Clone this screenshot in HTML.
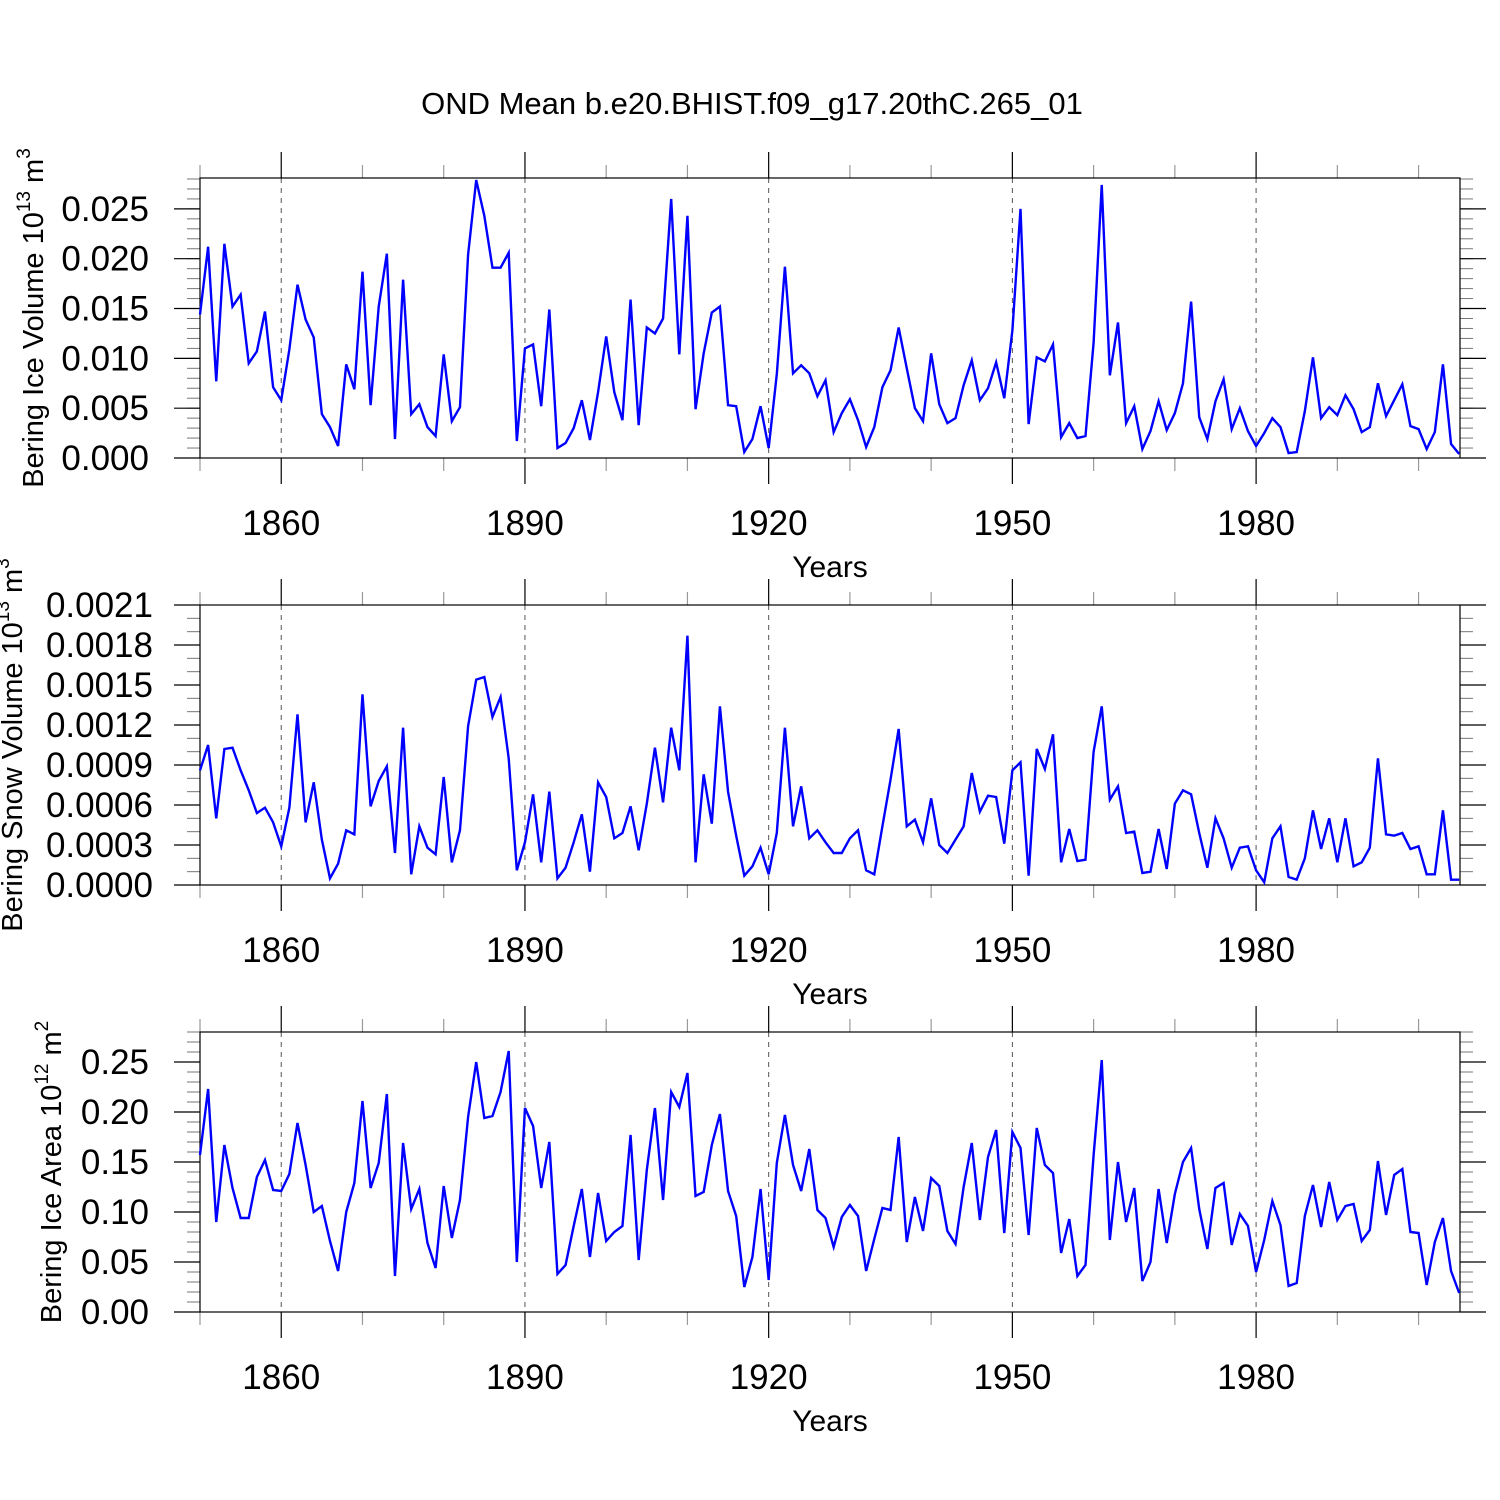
<!DOCTYPE html>
<html><head><meta charset="utf-8"><style>
html,body{margin:0;padding:0;background:#fff;}
svg{display:block;font-family:"Liberation Sans",Arial,sans-serif;}
</style></head><body>
<svg id="chart" width="1500" height="1500" viewBox="0 0 1500 1500" xmlns="http://www.w3.org/2000/svg">
<rect width="1500" height="1500" fill="#fff"/>
<text x="752" y="114" font-size="31" text-anchor="middle">OND Mean b.e20.BHIST.f09_g17.20thC.265_01</text>
</svg>
<script>
const startYear = 1850;
const iceVolume = [0.0144,0.0212,0.0077,0.0215,0.0152,0.0164,0.0095,0.0107,0.0147,0.0071,
0.0058,0.0109,0.0174,0.0139,0.0121,0.0044,0.0031,0.0012,0.0094,0.0069,
0.0187,0.0053,0.0152,0.0205,0.0019,0.0179,0.0044,0.0054,0.0031,0.0022,
0.0104,0.0037,0.0051,0.0204,0.0279,0.0243,0.0191,0.0191,0.0206,0.0017,
0.0110,0.0114,0.0052,0.0149,0.0010,0.0015,0.0030,0.0058,0.0018,0.0066,
0.0122,0.0066,0.0038,0.0159,0.0033,0.0131,0.0125,0.0140,0.0260,0.0104,
0.0243,0.0049,0.0105,0.0146,0.0152,0.0053,0.0052,0.0006,0.0019,0.0052,
0.0010,0.0084,0.0192,0.0085,0.0093,0.0085,0.0062,0.0078,0.0026,0.0045,
0.0059,0.0038,0.0011,0.0031,0.0071,0.0088,0.0131,0.0090,0.0050,0.0037,
0.0105,0.0054,0.0035,0.0040,0.0073,0.0098,0.0058,0.0070,0.0096,0.0060,
0.0128,0.0250,0.0034,0.0101,0.0097,0.0114,0.0021,0.0035,0.0020,0.0022,
0.0116,0.0274,0.0083,0.0136,0.0035,0.0052,0.0009,0.0027,0.0057,0.0028,
0.0045,0.0075,0.0157,0.0041,0.0019,0.0057,0.0079,0.0029,0.0050,0.0027,
0.0012,0.0025,0.0040,0.0031,0.0005,0.0006,0.0047,0.0101,0.0040,0.0051,
0.0043,0.0063,0.0049,0.0026,0.0031,0.0075,0.0042,0.0058,0.0074,0.0032,
0.0029,0.0009,0.0026,0.0094,0.0014,0.0004];
const snowVolume = [0.00086,0.00105,0.00050,0.00102,0.00103,0.00086,0.00071,0.00054,0.00058,0.00047,
0.00029,0.00058,0.00128,0.00047,0.00077,0.00034,0.00005,0.00016,0.00041,0.00038,
0.00143,0.00059,0.00078,0.00089,0.00024,0.00118,0.00008,0.00044,0.00028,0.00023,
0.00081,0.00017,0.00041,0.00119,0.00154,0.00156,0.00126,0.00141,0.00095,0.00011,
0.00032,0.00068,0.00017,0.00070,0.00005,0.00013,0.00032,0.00053,0.00010,0.00077,
0.00066,0.00035,0.00039,0.00059,0.00026,0.00061,0.00103,0.00062,0.00118,0.00086,
0.00187,0.00017,0.00083,0.00046,0.00134,0.00070,0.00037,0.00007,0.00014,0.00028,
0.00008,0.00039,0.00118,0.00044,0.00074,0.00035,0.00041,0.00032,0.00024,0.00024,
0.00035,0.00041,0.00011,0.00008,0.00044,0.00079,0.00117,0.00044,0.00049,0.00032,
0.00065,0.00030,0.00024,0.00034,0.00044,0.00084,0.00055,0.00067,0.00066,0.00031,
0.00086,0.00092,0.00007,0.00102,0.00087,0.00113,0.00017,0.00042,0.00018,0.00019,
0.00100,0.00134,0.00064,0.00074,0.00039,0.00040,0.00009,0.00010,0.00042,0.00012,
0.00061,0.00071,0.00068,0.00039,0.00013,0.00050,0.00035,0.00013,0.00028,0.00029,
0.00011,0.00002,0.00035,0.00044,0.00006,0.00004,0.00020,0.00056,0.00027,0.00050,
0.00017,0.00050,0.00014,0.00017,0.00028,0.00095,0.00038,0.00037,0.00039,0.00027,
0.00029,0.00008,0.00008,0.00056,0.00004,0.00004];
const iceArea = [0.157,0.223,0.090,0.167,0.124,0.094,0.094,0.135,0.152,0.122,
0.121,0.138,0.189,0.147,0.100,0.106,0.071,0.041,0.100,0.129,
0.211,0.124,0.149,0.218,0.036,0.169,0.103,0.123,0.069,0.044,
0.126,0.074,0.112,0.195,0.250,0.194,0.196,0.220,0.261,0.050,
0.204,0.186,0.124,0.170,0.038,0.047,0.086,0.123,0.055,0.119,
0.071,0.080,0.086,0.177,0.052,0.142,0.204,0.112,0.220,0.205,
0.239,0.116,0.120,0.167,0.198,0.121,0.096,0.025,0.055,0.123,
0.032,0.149,0.197,0.147,0.121,0.163,0.102,0.094,0.065,0.095,
0.107,0.096,0.041,0.073,0.104,0.102,0.175,0.070,0.115,0.081,
0.134,0.126,0.081,0.068,0.125,0.169,0.092,0.155,0.182,0.079,
0.180,0.164,0.077,0.184,0.147,0.139,0.059,0.093,0.036,0.047,
0.157,0.252,0.072,0.150,0.090,0.124,0.031,0.050,0.123,0.069,
0.118,0.150,0.164,0.103,0.063,0.124,0.129,0.067,0.098,0.086,
0.040,0.072,0.111,0.087,0.026,0.029,0.096,0.127,0.085,0.130,
0.092,0.106,0.108,0.071,0.082,0.151,0.097,0.137,0.143,0.080,
0.079,0.027,0.070,0.094,0.041,0.019];
const xTickYears = [1860,1890,1920,1950,1980];
const iceTicks = ["0.000","0.005","0.010","0.015","0.020","0.025"];
const snowTicks = ["0.0000","0.0003","0.0006","0.0009","0.0012","0.0015","0.0018","0.0021"];
const areaTicks = ["0.00","0.05","0.10","0.15","0.20","0.25"];

const NS = "http://www.w3.org/2000/svg";
const svg = document.getElementById('chart');
const L = 200, R = 1460, X0 = 1850, X1 = 2005.1;
function xs(yr){ return L + (yr - X0) / (X1 - X0) * (R - L); }
function mk(tag, attrs, parent){
  const e = document.createElementNS(NS, tag);
  for (const k in attrs) e.setAttribute(k, attrs[k]);
  (parent || svg).appendChild(e); return e;
}
function panel(opt){
  const g = mk('g', {});
  
  
  const T = opt.top, B = opt.top + 280;
  const ys = v => B - (v - 0) / opt.ymax * (B - T);
  xTickYears.forEach(yr => {
    const l = mk('line', {x1: xs(yr), x2: xs(yr), y1: T, y2: B, stroke: '#555', 'stroke-width': 1, 'stroke-dasharray': '5,5'}, g);
    
    
  });
  for (let yr = 1850; yr <= 2005; yr += 10) {
    const major = xTickYears.includes(yr);
    const len = major ? 26 : 13;
    mk('line', {x1: xs(yr), x2: xs(yr), y1: T - len, y2: T, stroke: major ? '#000' : '#999', 'stroke-width': 1.2}, g);
    mk('line', {x1: xs(yr), x2: xs(yr), y1: B, y2: B + len, stroke: major ? '#000' : '#999', 'stroke-width': 1.2}, g);
  }
  xTickYears.forEach(yr => {
    const t = mk('text', {x: xs(yr), y: B + 77, 'font-size': 35, 'text-anchor': 'middle'}, g);
    t.textContent = yr;
    
    
  });
  const xt = mk('text', {x: 830, y: B + 119, 'font-size': 30, 'text-anchor': 'middle'}, g);
  xt.textContent = 'Years';
  
  
  const nMinor = Math.round(opt.ymax / opt.minor);
  for (let i = 0; i <= nMinor; i++) {
    const y = ys(i * opt.minor);
    mk('line', {x1: L, x2: L - 13, y1: y, y2: y, stroke: '#777', 'stroke-width': 1}, g);
    mk('line', {x1: R, x2: R + 13, y1: y, y2: y, stroke: '#777', 'stroke-width': 1}, g);
  }
  opt.ticks.forEach((lab, i) => {
    const y = ys(i * opt.major);
    mk('line', {x1: L, x2: L - 26, y1: y, y2: y, stroke: '#000', 'stroke-width': 1.2}, g);
    mk('line', {x1: R, x2: R + 26, y1: y, y2: y, stroke: '#000', 'stroke-width': 1.2}, g);
    const t = mk('text', {x: opt.labX, y: y + 12, 'font-size': 35, 'text-anchor': 'end'}, g);
    t.textContent = lab;
    
    
  });
  mk('rect', {x: L, y: T, width: R - L, height: B - T, fill: 'none', stroke: '#000', 'stroke-width': 1.2}, g);
  const pts = opt.data.map((v, i) => xs(startYear + i).toFixed(2) + ',' + ys(v).toFixed(2)).join(' ');
  const pl = mk('polyline', {points: pts, fill: 'none', stroke: '#0000ff', 'stroke-width': 2.4, 'stroke-linejoin': 'miter'}, g);
  
  
  const yt = mk('text', {x: 0, y: 0, 'font-size': 29, 'text-anchor': 'middle', transform: 'translate(' + opt.titleX + ',' + ((T + B) / 2) + ') rotate(-90)'}, g);
  yt.innerHTML = opt.title + ' 10<tspan dy="-13" font-size="19">' + opt.exp + '</tspan><tspan dy="13"> m</tspan><tspan dy="-13" font-size="19">' + opt.unitExp + '</tspan>';
  
  
}
panel({name: 'ice-volume-panel', top: 178, ymax: 0.0281, major: 0.005, minor: 0.001, ticks: iceTicks, data: iceVolume, labX: 149, titleX: 43, title: 'Bering Ice Volume', exp: '13', unitExp: '3'});
panel({name: 'snow-volume-panel', top: 605, ymax: 0.0021, major: 0.0003, minor: 0.0001, ticks: snowTicks, data: snowVolume, labX: 153, titleX: 22, title: 'Bering Snow Volume', exp: '13', unitExp: '3'});
panel({name: 'ice-area-panel', top: 1032, ymax: 0.28, major: 0.05, minor: 0.01, ticks: areaTicks, data: iceArea, labX: 149, titleX: 61, title: 'Bering Ice Area', exp: '12', unitExp: '2'});
</script>
</body></html>
